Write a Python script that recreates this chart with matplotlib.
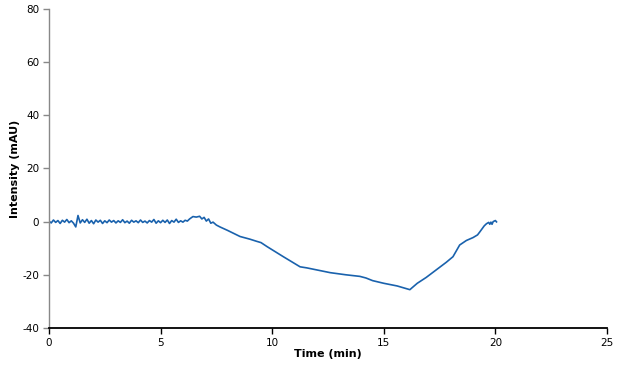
import matplotlib
matplotlib.use('Agg')
import matplotlib.pyplot as plt

plt.rcParams['axes.unicode_minus'] = False

# chromatogram trace (time in min, intensity in mAU)
time_min = [0.0, 0.1, 0.2, 0.3, 0.4, 0.5, 0.6, 0.7, 0.8, 0.9,
            1.0, 1.1, 1.2, 1.3, 1.4, 1.5, 1.6, 1.7, 1.8, 1.9,
            2.0, 2.1, 2.2, 2.3, 2.4, 2.5, 2.6, 2.7, 2.8, 2.9,
            3.0, 3.1, 3.2, 3.3, 3.4, 3.5, 3.6, 3.7, 3.8, 3.9,
            4.0, 4.1, 4.2, 4.3, 4.4, 4.5, 4.6, 4.7, 4.8, 4.9,
            5.0, 5.1, 5.2, 5.3, 5.4, 5.5, 5.6, 5.7, 5.8, 5.9,
            6.0, 6.1, 6.2, 6.3, 6.45, 6.6, 6.75, 6.85, 6.95, 7.05,
            7.15, 7.25, 7.35, 7.5, 7.66, 8.0, 8.56, 9.0, 9.3, 9.5,
            9.77, 10.5, 11.25, 11.55, 12.6, 13.3, 13.93, 14.2, 14.5, 15.0,
            15.6, 16.17, 16.25, 16.5, 16.9, 17.5, 17.8, 18.1, 18.25, 18.4,
            18.7, 19.0, 19.2, 19.3, 19.5, 19.6, 19.7, 19.75, 19.8, 19.85,
            19.9, 20.0, 20.05]
intensity = [0.2, -0.5, 0.6, -0.3, 0.4, -0.7, 0.5, -0.2, 0.8, -0.4,
             0.3, -0.6, -2.0, 2.3, -0.5, 0.7, -0.3, 0.9, -0.6, 0.4,
             -0.8, 0.6, -0.2, 0.5, -0.7, 0.3, -0.4, 0.6, -0.2, 0.4,
             -0.5, 0.3, -0.3, 0.7, -0.4, 0.2, -0.6, 0.5, -0.2, 0.3,
             -0.4, 0.6, -0.3, 0.2, -0.5, 0.4, -0.2, 0.8, -0.6, 0.3,
             -0.4, 0.5, -0.3, 0.6, -0.7, 0.4, -0.2, 0.9, -0.3, 0.3,
             -0.2, 0.5, 0.2, 1.0, 1.9, 1.7, 2.0, 1.0, 1.6, 0.2,
             1.0, -0.6, -0.2, -1.3, -2.0, -3.3, -5.6, -6.6, -7.4, -7.9,
             -9.4, -13.2, -17.0, -17.4, -19.2, -20.0, -20.6, -21.2, -22.2, -23.2,
             -24.2, -25.6, -25.0, -23.2, -21.0, -17.2, -15.3, -13.2, -11.0, -8.8,
             -7.1, -6.0, -5.0, -3.9, -1.6, -0.8, -0.3, -1.0, -0.2, -1.0,
             0.0, 0.4, -0.1]

x_ticks = [0, 5, 10, 15, 20, 25]
y_ticks = [-40, -20, 0, 20, 40, 60, 80]

fig = plt.figure(figsize=(6.2, 3.71), dpi=100)
ax = fig.add_axes([0.079, 0.116, 0.900, 0.860])

ax.plot(time_min, intensity, color='#1a62ad', linewidth=1.2)

ax.set_xlim(0, 25)
ax.set_ylim(-40, 80)
ax.set_xticks(x_ticks)
ax.set_yticks(y_ticks)

for side in ['top', 'right']:
    ax.spines[side].set_visible(False)
ax.spines['left'].set_color('#888888')
ax.spines['left'].set_linewidth(1.0)
ax.spines['bottom'].set_color('black')
ax.spines['bottom'].set_linewidth(1.3)

ax.tick_params(axis='y', direction='out', length=4, width=1, color='#888888', labelsize=7.5, pad=3)
ax.tick_params(axis='x', direction='out', length=4, width=1, color='black', labelsize=7.5, pad=3)

ax.set_xlabel('Time (min)', fontsize=8, fontweight='bold', labelpad=1)
ax.set_ylabel('Intensity (mAU)', fontsize=8, fontweight='bold', labelpad=2)

plt.savefig('out.png', dpi=100)
